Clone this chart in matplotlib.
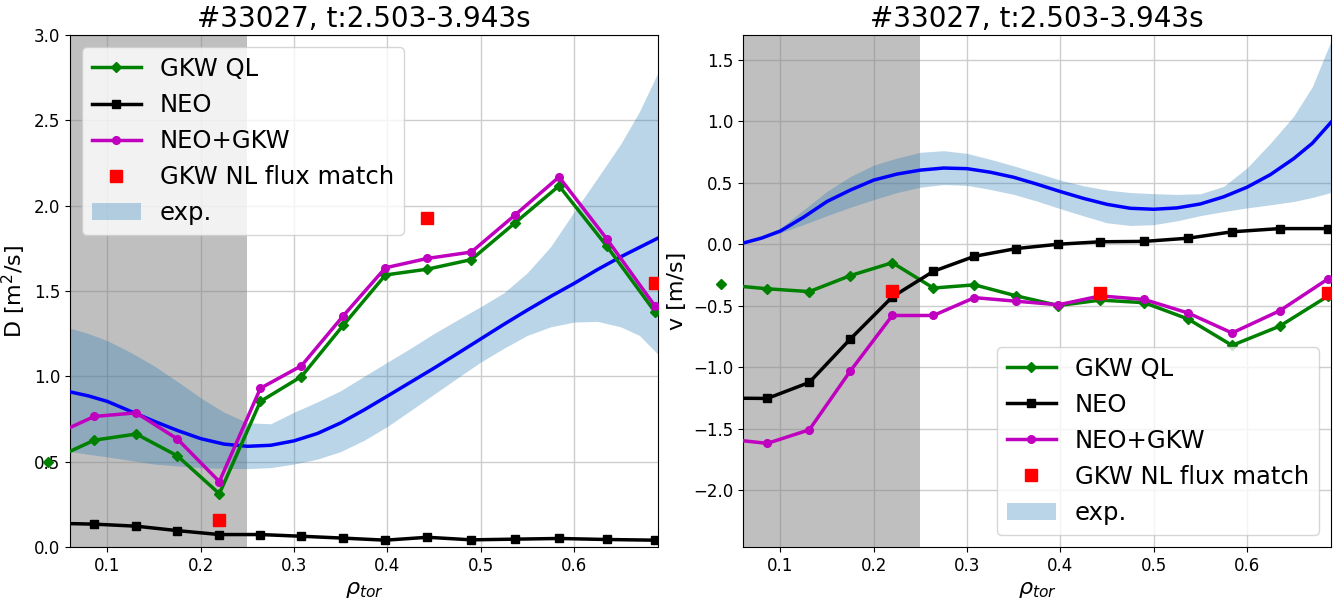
import matplotlib
matplotlib.use("Agg")
import matplotlib.pyplot as plt
import numpy as np

# radial grid of the simulations
rho = [0.036, 0.086, 0.131, 0.175, 0.220, 0.264, 0.308, 0.353, 0.398, 0.443, 0.490, 0.537, 0.584, 0.635, 0.687]

# diffusion D [m^2/s]
D_gkw = [0.50, 0.626, 0.662, 0.534, 0.312, 0.853, 0.999, 1.301, 1.594, 1.628, 1.684, 1.900, 2.116, 1.764, 1.376]
D_neo = [0.14, 0.134, 0.122, 0.096, 0.073, 0.073, 0.063, 0.052, 0.040, 0.057, 0.042, 0.046, 0.050, 0.044, 0.040]
D_sum = [0.64, 0.765, 0.786, 0.633, 0.383, 0.930, 1.062, 1.356, 1.636, 1.691, 1.728, 1.946, 2.168, 1.806, 1.41]

# convection v [m/s]
v_gkw = [-0.327, -0.362, -0.385, -0.255, -0.150, -0.356, -0.330, -0.420, -0.498, -0.454, -0.475, -0.608, -0.822, -0.666, -0.420]
v_neo = [-1.25, -1.253, -1.123, -0.770, -0.428, -0.220, -0.098, -0.035, 0.0, 0.020, 0.023, 0.049, 0.101, 0.127, 0.127]
v_sum = [-1.577, -1.618, -1.508, -1.030, -0.579, -0.579, -0.434, -0.463, -0.492, -0.420, -0.449, -0.559, -0.721, -0.541, -0.281]

# nonlinear flux match points
rho_nl = [0.220, 0.443, 0.687]
D_nl = [0.161, 1.93, 1.548]
v_nl = [-0.379, -0.399, -0.399]

# experimental profiles (mean and band)
rho_exp = [0.06, 0.08, 0.10, 0.125, 0.15, 0.175, 0.20, 0.225, 0.25, 0.275, 0.30, 0.325, 0.35, 0.375,
           0.40, 0.425, 0.45, 0.475, 0.50, 0.525, 0.55, 0.575, 0.60, 0.625, 0.65, 0.67, 0.69]

D_exp = [0.909, 0.885, 0.853, 0.795, 0.737, 0.683, 0.635, 0.603, 0.590, 0.596, 0.622, 0.665, 0.727, 0.803,
         0.884, 0.966, 1.048, 1.133, 1.219, 1.305, 1.388, 1.468, 1.544, 1.625, 1.700, 1.755, 1.810]
D_exp_hi = [1.282, 1.25, 1.209, 1.14, 1.062, 0.97, 0.874, 0.79, 0.728, 0.722, 0.79, 0.85, 0.916, 1.0,
            1.083, 1.165, 1.251, 1.33, 1.408, 1.49, 1.607, 1.76, 1.963, 2.16, 2.361, 2.55, 2.78]
D_exp_lo = [0.559, 0.543, 0.528, 0.507, 0.486, 0.475, 0.465, 0.461, 0.459, 0.465, 0.486, 0.515, 0.559, 0.625,
            0.706, 0.80, 0.895, 0.99, 1.083, 1.165, 1.240, 1.29, 1.318, 1.322, 1.29, 1.24, 1.129]

v_exp = [0.009, 0.05, 0.107, 0.22, 0.347, 0.44, 0.521, 0.57, 0.602, 0.619, 0.614, 0.585, 0.544, 0.488,
         0.428, 0.372, 0.324, 0.292, 0.284, 0.295, 0.327, 0.385, 0.463, 0.565, 0.695, 0.82, 0.990]
v_exp_hi = [0.014, 0.07, 0.13, 0.28, 0.43, 0.55, 0.643, 0.70, 0.747, 0.76, 0.738, 0.69, 0.637, 0.58,
            0.521, 0.475, 0.44, 0.42, 0.411, 0.405, 0.41, 0.47, 0.62, 0.82, 1.04, 1.28, 1.65]
v_exp_lo = [0.006, 0.05, 0.093, 0.16, 0.232, 0.30, 0.362, 0.42, 0.463, 0.485, 0.478, 0.445, 0.405, 0.35,
            0.289, 0.23, 0.174, 0.152, 0.159, 0.19, 0.232, 0.265, 0.295, 0.32, 0.347, 0.38, 0.420]

title = "#33027, t:2.503-3.943s"
rho_core = 0.25

fig = plt.figure(figsize=(13.39, 5.99), dpi=100)
ax1 = fig.add_axes([0.0523, 0.0868, 0.4391, 0.8548])
ax2 = fig.add_axes([0.5549, 0.0868, 0.4391, 0.8548])


def panel(ax, y_gkw, y_neo, y_sum, y_nl, y_exp, y_lo, y_hi):
    ax.grid(True, color="#cdcdcd", lw=1.0, zorder=0)
    ax.set_axisbelow(True)
    ax.axvspan(0, rho_core, color="gray", alpha=0.5, lw=0, zorder=1)
    band = ax.fill_between(rho_exp, y_lo, y_hi, color="C0", alpha=0.3, lw=0, zorder=2, label="exp.")
    ax.plot(rho_exp, y_exp, color="b", lw=2.5, zorder=3)
    l1, = ax.plot(rho, y_gkw, color="green", marker="D", ms=5.5, lw=2.5, zorder=4, label="GKW QL")
    # first green marker sits outside the axes
    ax.plot(rho[:1], y_gkw[:1], color="green", marker="D", ms=5.5, ls="none", clip_on=False, zorder=4)
    l2, = ax.plot(rho, y_neo, color="k", marker="s", ms=6, lw=2.5, zorder=4, label="NEO")
    l3, = ax.plot(rho, y_sum, color="m", marker="o", ms=5.5, lw=2.5, zorder=4, label="NEO+GKW")
    l4, = ax.plot(rho_nl, y_nl, color="red", marker="s", ms=8, ls="none", zorder=5, label="GKW NL flux match")
    ax.set_xlim(0.06, 0.69)
    ax.set_title(title, fontsize=20)
    ax.set_xlabel(r"$\rho_{tor}$", fontsize=16)
    ax.tick_params(labelsize=12)
    return [l1, l2, l3, l4, band]


h = panel(ax1, D_gkw, D_neo, D_sum, D_nl, D_exp, D_exp_lo, D_exp_hi)
ax1.set_ylim(0, 3.0)
ax1.set_ylabel("D [m$^2$/s]", fontsize=16)
ax1.legend(handles=h, loc="upper left", fontsize=17.5)

h = panel(ax2, v_gkw, v_neo, v_sum, v_nl, v_exp, v_exp_lo, v_exp_hi)
ax2.set_ylim(-2.46, 1.70)
ax2.set_ylabel("v [m/s]", fontsize=16)
ax2.legend(handles=h, loc="lower right", fontsize=17.5)

fig.savefig("out.png", dpi=100)
